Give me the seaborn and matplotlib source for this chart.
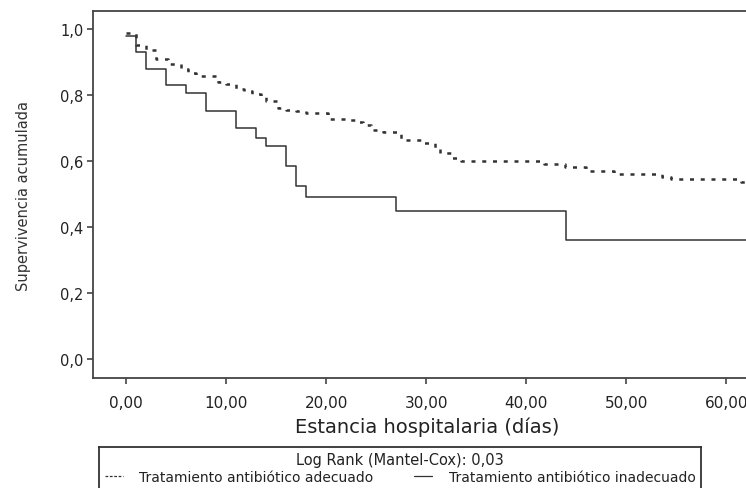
import matplotlib
matplotlib.use("Agg")
import matplotlib.pyplot as plt
from matplotlib.lines import Line2D
import seaborn as sns
import pandas as pd

# ---- data ----
t_adec = [0, 1.0, 2.0, 3.0, 4.2, 5.5, 6.2, 7.0, 9.2, 10.0, 11.0, 11.8, 12.6, 13.5,
          14.0, 15.2, 16.0, 17.0, 18.0, 20.2, 22.0, 23.0, 23.7, 24.5, 25.7, 27.5,
          29.5, 30.9, 31.4, 32.5, 33.5, 41.8, 43.9, 46.0, 48.8, 53.6, 54.5, 61.5, 70]
s_adec = [0.987, 0.950, 0.935, 0.910, 0.893, 0.877, 0.866, 0.858, 0.839, 0.832,
          0.819, 0.812, 0.804, 0.794, 0.781, 0.760, 0.753, 0.750, 0.746, 0.728,
          0.723, 0.718, 0.708, 0.693, 0.689, 0.663, 0.653, 0.635, 0.624, 0.609,
          0.600, 0.592, 0.581, 0.570, 0.560, 0.552, 0.544, 0.537, 0.537]

t_inad = [0, 1, 2, 4, 6, 8, 11, 13, 14, 16, 17, 18, 27, 44, 70]
s_inad = [0.978, 0.930, 0.879, 0.831, 0.806, 0.751, 0.700, 0.671, 0.644, 0.586,
          0.525, 0.492, 0.450, 0.362, 0.362]

x_ticks = [0, 10, 20, 30, 40, 50, 60]
x_tick_labels = ["0,00", "10,00", "20,00", "30,00", "40,00", "50,00", "60,00"]
y_ticks = [0.0, 0.2, 0.4, 0.6, 0.8, 1.0]
y_tick_labels = ["0,0", "0,2", "0,4", "0,6", "0,8", "1,0"]

label_adec = "Tratamiento antibiótico adecuado"
label_inad = "Tratamiento antibiótico inadecuado"
legend_title = "Log Rank (Mantel-Cox): 0,03"
x_label = "Estancia hospitalaria (días)"
y_label = "Supervivencia acumulada"

# ---- style ----
sns.set_theme(style="white")
plt.rcParams["font.family"] = ["DejaVu Sans"]

W, H = 746, 489
fig = plt.figure(figsize=(W / 100, H / 100), dpi=100)
ax_left, ax_right, ax_top, ax_bottom = 93, 746, 12, 379
ax = fig.add_axes([ax_left / W, 1 - ax_bottom / H,
                   (ax_right - ax_left) / W, (ax_bottom - ax_top) / H])

line_col = "#333333"
frame_col = "#444444"
df_a = pd.DataFrame({"t": t_adec, "s": s_adec})
df_i = pd.DataFrame({"t": t_inad, "s": s_inad})

sns.lineplot(data=df_a, x="t", y="s", ax=ax, estimator=None, sort=False,
             drawstyle="steps-post", color=line_col, linewidth=1.8,
             linestyle=(0, (1.6, 2.7)))
sns.lineplot(data=df_i, x="t", y="s", ax=ax, estimator=None, sort=False,
             drawstyle="steps-post", color=line_col, linewidth=1.1)

x_per_px = 0.1
ax.set_xlim(-3.33, -3.33 + (ax_right - ax_left) * x_per_px)
ax.set_ylim(-0.057, 1.054)
ax.set_xticks(x_ticks)
ax.set_xticklabels(x_tick_labels, fontsize=11, color="#222222")
ax.set_yticks(y_ticks)
ax.set_yticklabels(y_tick_labels, fontsize=10.5, color="#222222")
ax.tick_params(axis="both", direction="out", length=4, width=1.2,
               color=frame_col, left=True, bottom=True, pad=3)
ax.tick_params(axis="x", pad=8)
ax.set_xlabel(x_label, fontsize=14, color="#222222")
ax.xaxis.set_label_coords((427 - ax_left) / (ax_right - ax_left), -0.105)
ax.set_ylabel(y_label, fontsize=10.5, color="#333333")
ax.yaxis.set_label_coords(-(ax_left - 31) / (ax_right - ax_left), 0.5)

for side in ["left", "bottom"]:
    ax.spines[side].set_visible(True)
    ax.spines[side].set_color(frame_col)
    ax.spines[side].set_linewidth(1.3)
ax.spines["right"].set_visible(False)
ax.spines["top"].set_visible(False)
# top border of the plot frame
ax.add_line(Line2D([0, 1], [1, 1], transform=ax.transAxes, color=frame_col,
                   linewidth=1.3, clip_on=False))

# legend box: left, top and right sides (its lower edge lies below the picture)
box_left, box_right, box_top = 99, 701, 448
bx0, bx1, by = box_left / W, box_right / W, 1 - box_top / H
for xs, ys in [([bx0, bx0], [-0.02, by]), ([bx0, bx1], [by, by]), ([bx1, bx1], [by, -0.02])]:
    fig.add_artist(Line2D(xs, ys, transform=fig.transFigure, color="#333333",
                          linewidth=1.3, solid_capstyle="projecting"))

handles = [Line2D([], [], color=line_col, linewidth=0.9, linestyle=(0, (2.2, 1.3))),
           Line2D([], [], color=line_col, linewidth=0.9)]
leg = fig.legend(handles, [label_adec, label_inad], ncol=2,
                 title=legend_title, title_fontsize=10.5, fontsize=10,
                 loc="upper left", mode="expand",
                 bbox_to_anchor=(bx0, by, bx1 - bx0, 0.001),
                 borderaxespad=0, frameon=False,
                 handlelength=1.3, handletextpad=1.2,
                 borderpad=0.4, labelspacing=0.2)
leg.get_title().set_color("#222222")
for t in leg.get_texts():
    t.set_color("#222222")

fig.savefig("out.png", dpi=100)
